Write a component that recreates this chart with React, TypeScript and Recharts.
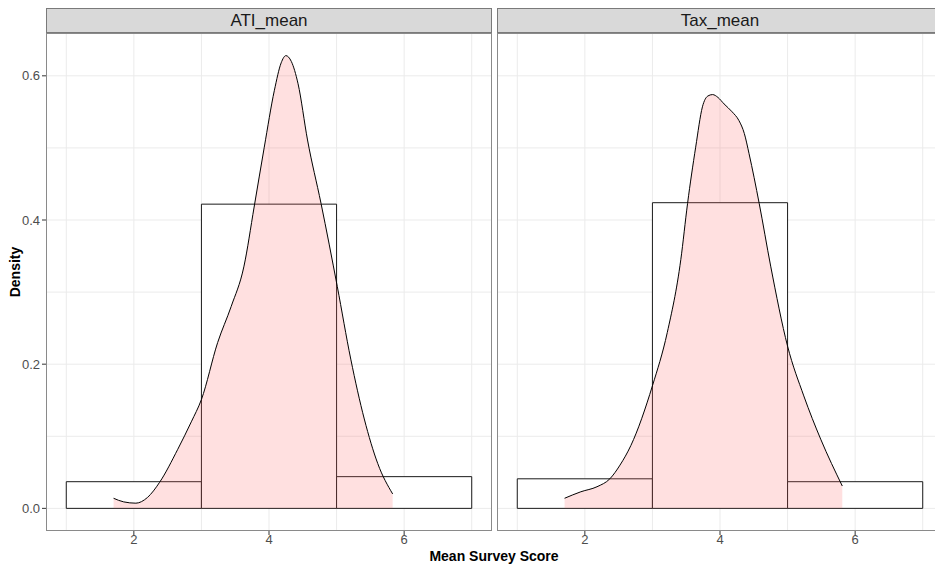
import { ComposedChart, Area, XAxis, YAxis, CartesianGrid, ReferenceArea } from "recharts";

// histogram bins (binwidth 2) and density
const binStarts = [1, 3, 5];
const binEnds = [3, 5, 7];
const atiBinDensity = [0.037, 0.422, 0.044];
const taxBinDensity = [0.041, 0.424, 0.037];

const atiX = [1.7, 1.85, 2.03, 2.2, 2.38, 2.65, 2.85, 3.0, 3.24, 3.44, 3.63, 3.78, 3.93, 4.08, 4.18, 4.25, 4.33, 4.43, 4.57, 4.77, 5.01, 5.21, 5.41, 5.61, 5.83];
const atiY = [0.014, 0.009, 0.0072, 0.015, 0.036, 0.082, 0.12, 0.151, 0.23, 0.28, 0.336, 0.418, 0.501, 0.58, 0.618, 0.628, 0.62, 0.589, 0.511, 0.423, 0.308, 0.207, 0.124, 0.062, 0.02];

const taxX = [1.7, 1.94, 2.18, 2.37, 2.52, 2.68, 3.0, 3.22, 3.42, 3.52, 3.64, 3.74, 3.82, 3.89, 3.97, 4.06, 4.18, 4.28, 4.36, 4.43, 4.58, 4.75, 5.0, 5.24, 5.49, 5.81];
const taxY = [0.014, 0.023, 0.03, 0.041, 0.06, 0.087, 0.17, 0.244, 0.345, 0.423, 0.501, 0.557, 0.572, 0.574, 0.57, 0.561, 0.55, 0.538, 0.52, 0.492, 0.423, 0.336, 0.225, 0.156, 0.096, 0.031];

const xTicks = [2, 4, 6];
const xGrid = [1, 2, 3, 4, 5, 6, 7];
const yTicks = [0, 0.2, 0.4, 0.6];
const yGrid = [0, 0.1, 0.2, 0.3, 0.4, 0.5, 0.6];

const xDomain: [number, number] = [0.7, 7.3];
const yDomain: [number, number] = [-0.0314, 0.6594];

const FONT = "'Liberation Sans', Arial, sans-serif";
const PLOT_TOP = 33;
const PLOT_BOTTOM = 531;
const H = 565;

const Panel = ({ title, left, showY, binVals, xs, ys }: any) => {
  const width = left + 446;
  const data = xs.map((x: number, i: number) => ({ x, y: ys[i] }));
  const yW = showY ? 46 : 0;
  const margin = { top: PLOT_TOP, right: 0, bottom: 0, left: left - yW };
  const overlayMargin = { top: PLOT_TOP, right: 0, bottom: H - PLOT_BOTTOM, left };
  return (
    <>
      {/* strip */}
      <div
        style={{
          position: "absolute", left, top: 8, width: 446, height: 25, boxSizing: "border-box",
          background: "#D9D9D9", border: "1px solid #7a7a7a", fontFamily: FONT, fontSize: 17,
          color: "#1a1a1a", textAlign: "center", lineHeight: "23px",
        }}
      >
        {title}
      </div>
      {/* grid, axes, histogram */}
      <div style={{ position: "absolute", left: 0, top: 0 }}>
        <ComposedChart width={width} height={H} data={data} margin={margin}>
          <CartesianGrid stroke="#EBEBEB" verticalValues={xGrid} horizontalValues={yGrid} />
          <XAxis
            type="number" dataKey="x" domain={xDomain} ticks={xTicks} allowDataOverflow
            height={H - PLOT_BOTTOM} axisLine={false} tickSize={4} tickMargin={0}
            tickLine={{ stroke: "#333333" }}
            tick={{ fill: "#4D4D4D", fontSize: 13, fontFamily: FONT }}
          />
          <YAxis
            type="number" domain={yDomain} ticks={yTicks} allowDataOverflow hide={!showY}
            width={yW} axisLine={false} tickSize={4} tickMargin={2}
            tickLine={{ stroke: "#333333" }}
            tick={{ fill: "#4D4D4D", fontSize: 13, fontFamily: FONT }}
            tickFormatter={(v: number) => v.toFixed(1)}
          />
          {binStarts.map((b: number, i: number) => (
            <ReferenceArea
              key={i} x1={b} x2={binEnds[i]} y1={0} y2={binVals[i]}
              fill="#ffffff" fillOpacity={1} stroke="#1a1a1a" strokeWidth={1}
            />
          ))}
        </ComposedChart>
      </div>
      {/* density overlay */}
      <div style={{ position: "absolute", left: 0, top: 0 }}>
        <ComposedChart width={width} height={H} data={data} margin={overlayMargin}>
          <XAxis type="number" dataKey="x" domain={xDomain} allowDataOverflow hide />
          <YAxis type="number" domain={yDomain} allowDataOverflow hide />
          <Area
            type="monotone" dataKey="y" baseValue={0} stroke="#000000" strokeWidth={1}
            fill="#FF6666" fillOpacity={0.2} isAnimationActive={false} dot={false} activeDot={false}
          />
        </ComposedChart>
      </div>
      {/* panel border */}
      <div
        style={{
          position: "absolute", left, top: PLOT_TOP, width: 446, height: PLOT_BOTTOM - PLOT_TOP,
          boxSizing: "border-box", border: "1px solid #8a8a8a", pointerEvents: "none",
        }}
      />
    </>
  );
};

export default function App() {
  return (
    <div style={{ position: "fixed", left: 0, top: 0, width: 935, height: H, overflow: "hidden", background: "#fff" }}>
      <Panel title="ATI_mean" left={46} showY binVals={atiBinDensity} xs={atiX} ys={atiY} />
      <Panel title="Tax_mean" left={497} showY={false} binVals={taxBinDensity} xs={taxX} ys={taxY} />
      <div
        style={{
          position: "absolute", left: 15, top: 272, transform: "translate(-50%, -50%) rotate(-90deg)",
          fontFamily: FONT, fontWeight: "bold", fontSize: 14, color: "#000", whiteSpace: "nowrap",
        }}
      >
        Density
      </div>
      <div
        style={{
          position: "absolute", left: 494, top: 556, transform: "translate(-50%, -50%)",
          fontFamily: FONT, fontWeight: "bold", fontSize: 14, color: "#000", whiteSpace: "nowrap",
        }}
      >
        Mean Survey Score
      </div>
    </div>
  );
}
